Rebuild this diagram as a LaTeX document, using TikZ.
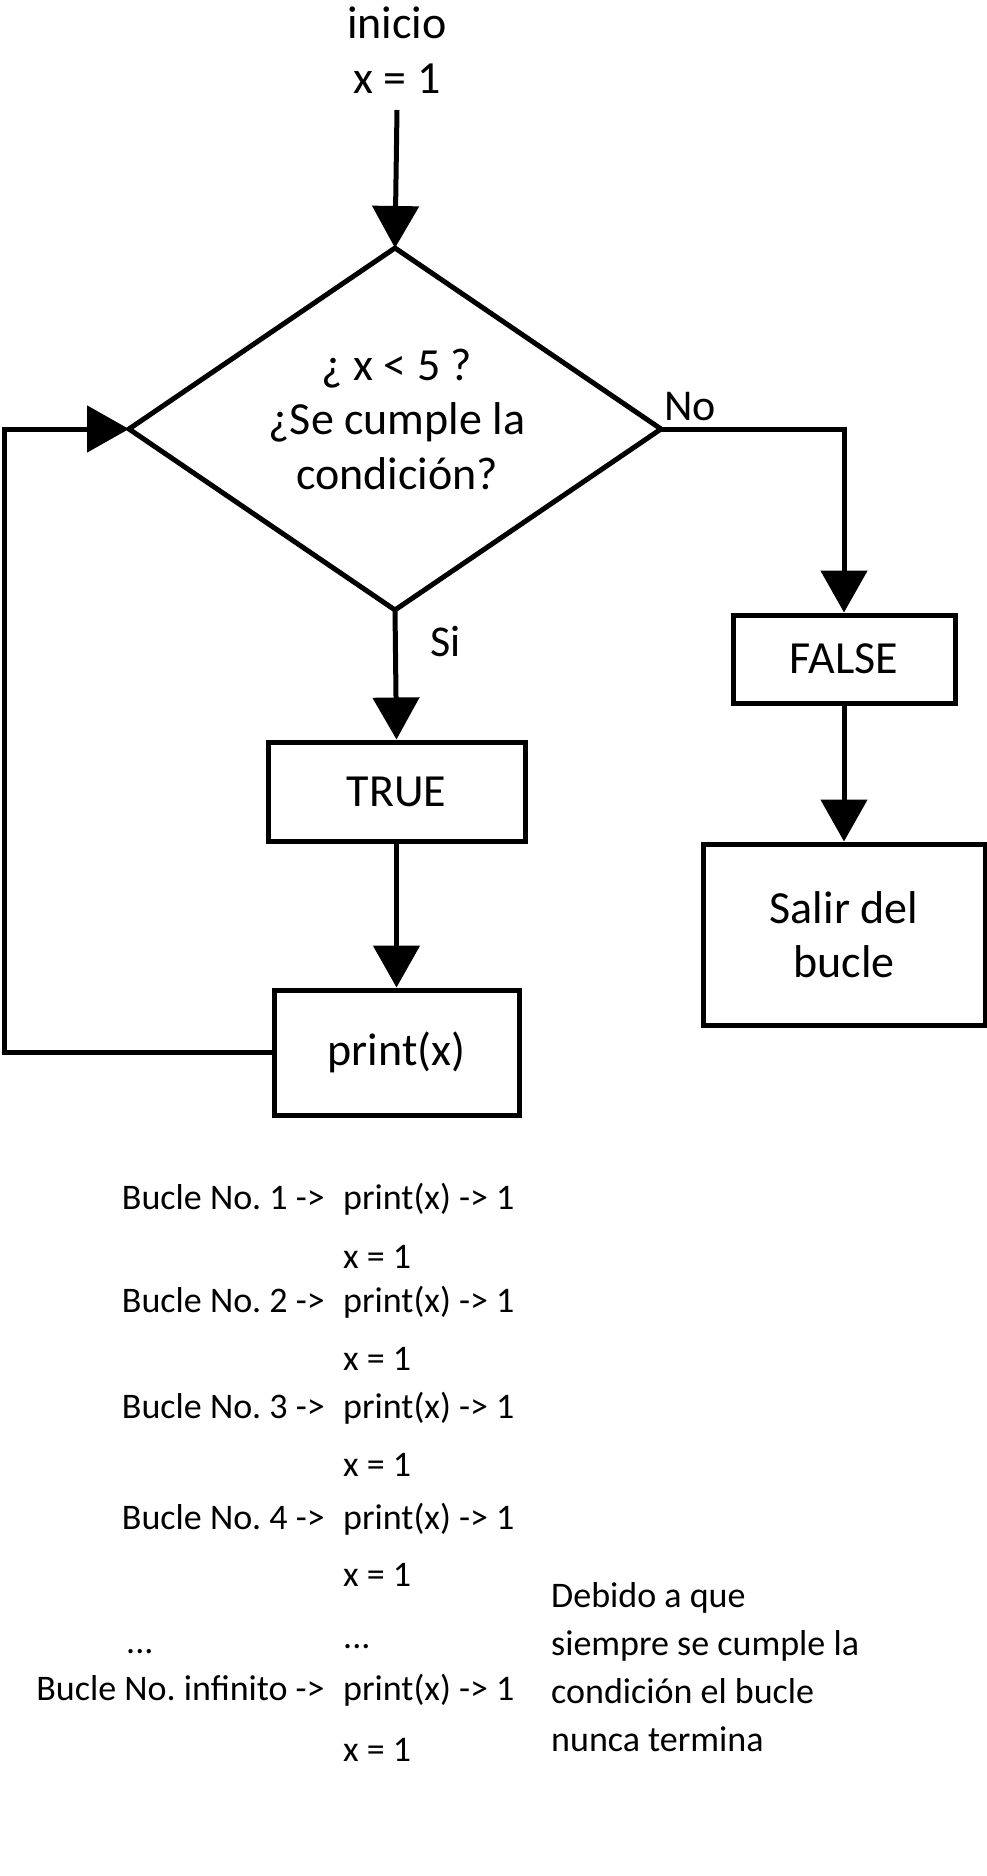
\documentclass[tikz,border=0pt]{standalone}
\usepackage{fontspec}
\setmainfont{Carlito}
\usetikzlibrary{arrows.meta, shapes.geometric}
\frenchspacing

\begin{document}
\begin{tikzpicture}[x=1pt, y=-1pt,
    box/.style={draw, line width=5pt, rectangle, inner sep=0pt, align=center, font=\fontsize{46}{54}\selectfont},
    decision/.style={draw, line width=5pt, diamond, aspect=1.47, minimum width=532pt, minimum height=362pt, inner sep=0pt, outer sep=0pt},
    flow/.style={line width=5pt, -{Triangle[length=42pt, width=46pt]}},
    lbl/.style={inner sep=0pt, font=\fontsize{44}{52}\selectfont},
    small/.style={inner sep=0pt, font=\fontsize{36}{48}\selectfont}]
    \useasboundingbox (0,0) rectangle (987,1876);

    % flowchart
    \node (inicio) at (397,50) [align=center, font=\fontsize{46}{55}\selectfont] {inicio\\x = 1};
    \coordinate (start) at (397,110);
    \node (cond) at (395,429) [decision] {};
    \node (condtext) at (397,419) [align=center, font=\fontsize{46}{54.5}\selectfont] {¿ x < 5 ?\\¿Se cumple la\\condición?};
    \node (true) at (396.5,791.5) [box, minimum width=257pt, minimum height=99pt] {TRUE};
    \node (print) at (396.5,1052.5) [box, minimum width=245pt, minimum height=125pt] {print(x)};
    \node (false) at (844,659) [box, minimum width=222pt, minimum height=88pt] {FALSE};
    \node (salir) at (844,934.5) [box, minimum width=282pt, minimum height=181pt] {Salir del\\bucle};
    \coordinate (back) at (4,1052.5);

    \draw [flow] (start) -- (cond.north);
    \draw [flow] (cond.south) -- (true.north);
    \draw [flow] (true.south) -- (print.north);
    \draw [flow] (print.west) -- (back) |- (cond.west);
    \draw [flow] (cond.east) -| (false.north);
    \draw [flow] (false.south) -- (salir.north);
    \node (no) at (664,420) [lbl, anchor=base west] {No};
    \node (si) at (430,656) [lbl, anchor=base west] {Si};

    % iteraciones
    \node (b1) at (325,1209) [small, anchor=base east] {Bucle No. 1 ->};
    \node (p1) at (343,1209) [small, anchor=base west] {print(x) -> 1};
    \node (x1) at (343,1268) [small, anchor=base west] {x = 1};
    \node (b2) at (325,1312) [small, anchor=base east] {Bucle No. 2 ->};
    \node (p2) at (343,1312) [small, anchor=base west] {print(x) -> 1};
    \node (x2) at (343,1370) [small, anchor=base west] {x = 1};
    \node (b3) at (325,1418) [small, anchor=base east] {Bucle No. 3 ->};
    \node (p3) at (343,1418) [small, anchor=base west] {print(x) -> 1};
    \node (x3) at (343,1476) [small, anchor=base west] {x = 1};
    \node (b4) at (325,1529) [small, anchor=base east] {Bucle No. 4 ->};
    \node (p4) at (343,1529) [small, anchor=base west] {print(x) -> 1};
    \node (x4) at (343,1586) [small, anchor=base west] {x = 1};
    \node (dotsb) at (126,1653) [small, anchor=base west] {...};
    \node (dotsp) at (343,1648) [small, anchor=base west] {...};
    \node (binf) at (325,1700) [small, anchor=base east] {Bucle No. infinito ->};
    \node (pinf) at (343,1700) [small, anchor=base west] {print(x) -> 1};
    \node (xinf) at (343,1761) [small, anchor=base west] {x = 1};
    \node (nota) at (551,1667) [small, anchor=west, align=left] {Debido a que\\siempre se cumple la\\condición el bucle\\nunca termina};
\end{tikzpicture}
\end{document}
